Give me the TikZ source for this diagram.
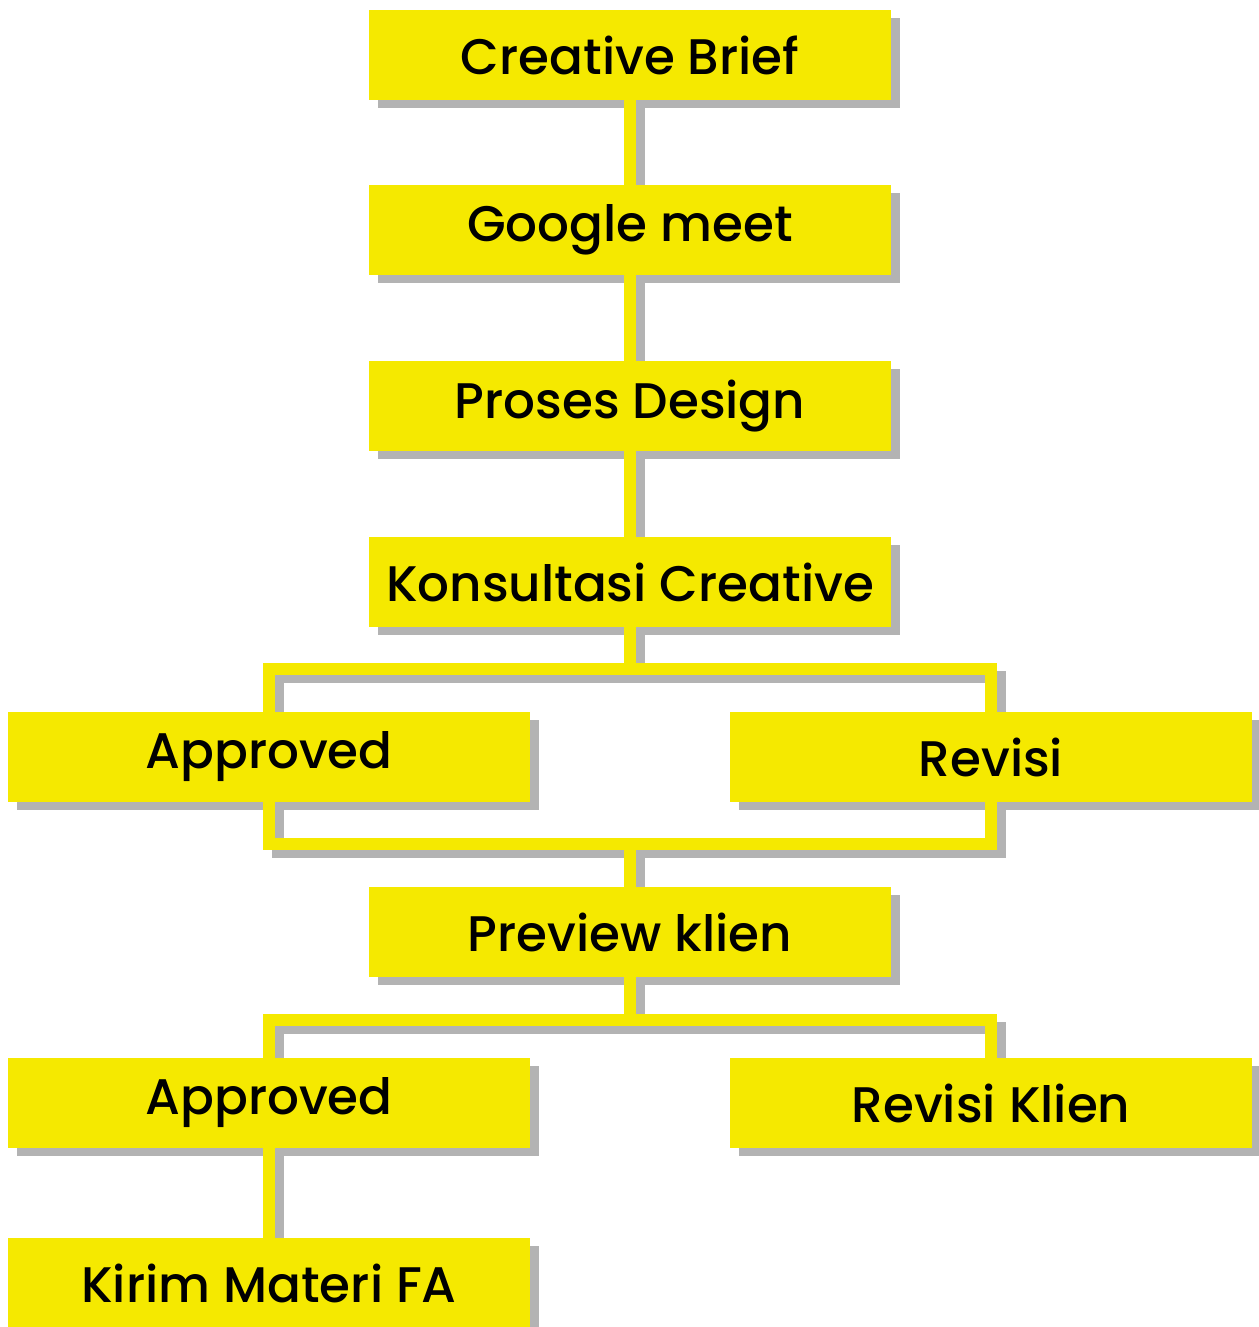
\documentclass[tikz,border=0pt]{standalone}
\usepackage{fontspec}
\setmainfont{Poppins}[UprightFont={* Medium}]
\usetikzlibrary{backgrounds}
\definecolor{boxyellow}{HTML}{F5E900}
\definecolor{shadowgray}{HTML}{B3B3B3}
\pgfdeclarelayer{bg}
\pgfdeclarelayer{fg}
\pgfsetlayers{bg,main,fg}
\tikzset{
  flowbox/.style={fill=boxyellow, minimum width=522pt, minimum height=90pt, inner sep=0pt, font=\fontsize{50}{56}\selectfont, text=black},
  ln/.style={draw=boxyellow, line width=12pt, line join=miter},
  lnshadow/.style={draw=shadowgray, line width=12pt, line join=miter, transform canvas={shift={(9pt,-8pt)}}},
  shd/.style={fill=shadowgray}
}
\newcommand\conn[1]{%
  \begin{pgfonlayer}{bg}\draw[lnshadow] #1;\end{pgfonlayer}%
  \draw[ln] #1;}
\begin{document}
\begin{tikzpicture}[x=1pt,y=-1pt]
\useasboundingbox (0,0) rectangle (1258,1327);
\begin{pgfonlayer}{fg}
\node[flowbox] (cb) at (630,55) {Creative Brief};
\node[flowbox] (gm) at (630,230) {Google meet};
\node[flowbox] (pd) at (630,406) {Proses Design};
\node[flowbox] (kc) at (630,582) {Konsultasi Creative};
\node[flowbox] (ap1) at (269,757) {Approved};
\node[flowbox] (rv1) at (991,757) {Revisi};
\node[flowbox] (pk) at (630,932) {Preview klien};
\node[flowbox] (ap2) at (269,1103) {Approved};
\node[flowbox] (rv2) at (991,1103) {Revisi Klien};
\node[flowbox] (km) at (269,1283) {Kirim Materi FA};
\end{pgfonlayer}
\begin{pgfonlayer}{bg}
\foreach \n in {cb,gm,pd,kc,ap1,rv1,pk,ap2,rv2,km}{
  \fill[shd] ([xshift=9pt,yshift=-8pt]\n.south west) rectangle ([xshift=9pt,yshift=-8pt]\n.north east);
}
\end{pgfonlayer}
\coordinate (j1) at (630,669);
\coordinate (j2) at (630,844);
\coordinate (j3) at (630,1020);
\conn{(cb.south) -- (gm.north)}
\conn{(gm.south) -- (pd.north)}
\conn{(pd.south) -- (kc.north)}
\conn{(kc.south) -- (j1)}
\conn{(ap1.north) -- (ap1.north |- j1) -- (rv1.north |- j1) -- (rv1.north)}
\conn{(ap1.south) -- (ap1.south |- j2) -- (rv1.south |- j2) -- (rv1.south)}
\conn{(j2) -- (pk.north)}
\conn{(pk.south) -- (j3)}
\conn{(ap2.north) -- (ap2.north |- j3) -- (rv2.north |- j3) -- (rv2.north)}
\conn{(ap2.south) -- (km.north)}
\end{tikzpicture}
\end{document}
